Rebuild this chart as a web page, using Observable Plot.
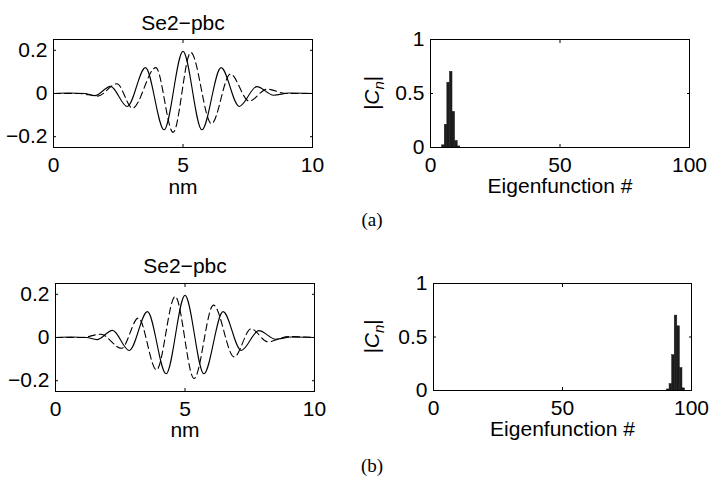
<!DOCTYPE html>
<html><head><meta charset="utf-8">
<script src="https://cdn.jsdelivr.net/npm/d3@7"></script>
<script src="https://cdn.jsdelivr.net/npm/@observablehq/plot@0.6"></script>
<style>
body{margin:0;background:#fff;}
#wrap{position:relative;width:710px;height:480px;background:#fff;overflow:hidden;}
#wrap svg{position:absolute;overflow:visible;}
</style></head><body><div id="wrap"></div>
<script>
// ---- data ----
const panelTitle = "Se2−pbc";
const xLabelWave = "nm";
const xLabelBar = "Eigenfunction #";
const captions = ["(a)", "(b)"];
const waveTicksX = [0, 5, 10];
const waveTicksY = [-0.2, 0, 0.2];
const barTicksX = [0, 50, 100];
const barTicksY = [0, 0.5, 1];

// solid curve (same in both panels), extrema
const solidX = [0, 0.6, 1.2, 1.6, 2.2, 2.85, 3.55, 4.27, 5.0, 5.73, 6.47, 7.17, 7.85, 8.5, 9.1, 10];
const solidY = [0, 0.002, 0, -0.01, 0.033, -0.06, 0.12, -0.168, 0.195, -0.168, 0.12, -0.06, 0.032, -0.008, 0.002, 0];
// dashed curve, panel (a)
const dashAX = [0, 1.0, 1.7, 2.45, 3.05, 3.95, 4.62, 5.3, 6.1, 6.83, 7.55, 8.25, 9.0, 10];
const dashAY = [0, 0, -0.012, 0.045, -0.068, 0.12, -0.18, 0.19, -0.14, 0.09, -0.035, 0.02, 0, 0];
// dashed curve, panel (b)
const dashBX = [0, 1.0, 1.75, 2.55, 3.2, 3.9, 4.62, 5.35, 6.1, 6.9, 7.55, 8.2, 9.0, 10];
const dashBY = [0, 0, 0.015, -0.05, 0.09, -0.15, 0.19, -0.19, 0.15, -0.09, 0.04, -0.02, 0.004, 0];
// eigenfunction coefficients
const barAN = [5, 6, 7, 8, 9, 10, 11];
const barAC = [0.02, 0.21, 0.6, 0.7, 0.33, 0.06, 0.01];
const barBN = [91, 92, 93, 94, 95, 96, 97];
const barBC = [0.01, 0.06, 0.33, 0.70, 0.60, 0.21, 0.02];

const FONT = "'Liberation Sans', Arial, Helvetica, sans-serif";
const FS = 21;
const fmt = d3.format("~g");
const zip = (xs, ys) => xs.map((x, i) => ({x, y: ys[i]}));
const zipBar = (ns, cs) => ns.map((n, i) => ({n, c: cs[i]}));

function frameAxes(tx, ty) {
  return [
    Plot.frame({stroke: "black", strokeWidth: 1}),
    Plot.axisX({anchor: "bottom", ticks: tx, tickSize: -3, tickPadding: 13, tickFormat: fmt, label: null, fontSize: FS}),
    Plot.axisX({anchor: "top", ticks: tx, tickSize: -3, tickFormat: () => "", label: null}),
    Plot.axisY({anchor: "left", ticks: ty, tickSize: -3, tickPadding: 9, tickFormat: fmt, label: null, fontSize: FS}),
    Plot.axisY({anchor: "right", ticks: ty, tickSize: -3, tickFormat: () => "", label: null})
  ];
}

function wavePlot(box, solid, dashed) {
  return Plot.plot({
    width: box.W, height: box.H,
    marginLeft: box.mL, marginRight: box.mR, marginTop: box.mT, marginBottom: box.mB,
    style: {fontFamily: FONT, fontSize: FS + "px", color: "black", background: "transparent", overflow: "visible"},
    x: {domain: [0, 10]},
    y: {domain: [-0.25, 0.25]},
    marks: [
      Plot.line(solid, {x: "x", y: "y", curve: "monotone-x", stroke: "black", strokeWidth: 1.1}),
      Plot.line(dashed, {x: "x", y: "y", curve: "monotone-x", stroke: "black", strokeWidth: 1.1, strokeDasharray: "7,4"}),
      ...frameAxes(waveTicksX, waveTicksY),
      Plot.text([panelTitle], {text: d => d, frameAnchor: "top", dy: box.titleDy, fontSize: FS}),
      Plot.text([xLabelWave], {text: d => d, frameAnchor: "bottom", dy: box.labDy, fontSize: FS})
    ]
  });
}

function barPlot(box, bars) {
  const svg = Plot.plot({
    width: box.W, height: box.H,
    marginLeft: box.mL, marginRight: box.mR, marginTop: box.mT, marginBottom: box.mB,
    style: {fontFamily: FONT, fontSize: FS + "px", color: "black", background: "transparent", overflow: "visible"},
    x: {domain: [0, 100]},
    y: {domain: [0, 1]},
    marks: [
      Plot.rectY(bars, {x1: d => d.n - 0.5, x2: d => d.n + 0.5, y1: 0, y2: "c", fill: "#1c1c1c", stroke: "#1c1c1c", strokeWidth: 0.5}),
      ...frameAxes(barTicksX, barTicksY),
      Plot.text([xLabelBar], {text: d => d, frameAnchor: "bottom", dy: box.labDy, fontSize: FS})
    ]
  });
  const cy = box.mT + (box.H - box.mT - box.mB) / 2;
  const t = d3.select(svg).append("text")
    .attr("transform", `translate(${box.labX},${cy}) rotate(-90)`)
    .attr("text-anchor", "middle")
    .attr("font-family", FONT).attr("font-size", FS).attr("fill", "black");
  t.append("tspan").attr("font-style", "italic").text("|C");
  t.append("tspan").attr("font-style", "italic").attr("font-size", 15).attr("dy", 5).text("n");
  t.append("tspan").attr("dy", -5).text("|");
  return svg;
}

const wrap = document.getElementById("wrap");
function place(svg, L, T) { svg.style.left = L + "px"; svg.style.top = T + "px"; wrap.appendChild(svg); }

place(wavePlot({W: 340, H: 210, mL: 53, mR: 28, mT: 39, mB: 63, titleDy: -24, labDy: 46}, zip(solidX, solidY), zip(dashAX, dashAY)), 0, 0);
place(barPlot({W: 370, H: 210, mL: 90, mR: 21, mT: 39, mB: 63, labDy: 45, labX: 39}, zipBar(barAN, barAC)), 340, 0);
place(wavePlot({W: 340, H: 210, mL: 55, mR: 26, mT: 43, mB: 59, titleDy: -25, labDy: 45}, zip(solidX, solidY), zip(dashBX, dashBY)), 0, 240);
place(barPlot({W: 370, H: 210, mL: 93, mR: 19, mT: 43, mB: 60, labDy: 45, labX: 39}, zipBar(barBN, barBC)), 340, 240);

// captions
const cap = d3.select(wrap).append("svg").attr("width", 710).attr("height", 480).style("left", "0px").style("top", "0px");
cap.selectAll("text").data(captions).join("text")
  .attr("x", 372).attr("y", (d, i) => i === 0 ? 219 : 465)
  .attr("dy", "0.35em").attr("text-anchor", "middle")
  .attr("font-family", "'Liberation Serif', 'Times New Roman', serif").attr("font-size", 19)
  .text(d => d);
</script></body></html>
